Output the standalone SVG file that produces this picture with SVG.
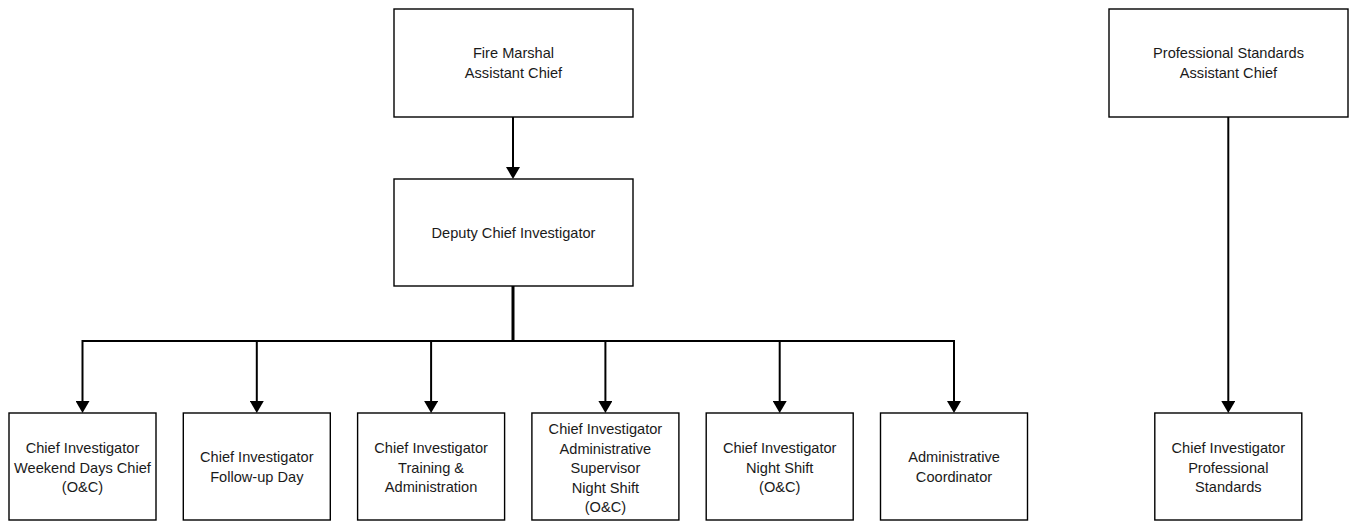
<svg xmlns="http://www.w3.org/2000/svg" width="1353" height="521" viewBox="0 0 1353 521">
<style>
.box{fill:#fff;stroke:#000;stroke-width:1.4}
.t{font-family:"Liberation Sans",Arial,sans-serif;font-size:14.6px;fill:#1a1a1a;text-anchor:middle}
.c{fill:none;stroke:#000;stroke-width:2}
</style>
<defs>
<marker id="ah" markerUnits="userSpaceOnUse" markerWidth="12" markerHeight="14" viewBox="0 0 12 14" refX="0" refY="7" orient="auto">
<path d="M0,0 L12,7 L0,14 z" fill="#000"/>
</marker>
</defs>
<g id="connectors">
<line class="c" x1="513" y1="117" x2="513" y2="167" marker-end="url(#ah)"/>
<line class="c" x1="513" y1="286" x2="513" y2="341" style="stroke-width:3"/>
<line class="c" x1="82.5" y1="341" x2="954" y2="341"/>
<line class="c" x1="82.5" y1="340" x2="82.5" y2="401" marker-end="url(#ah)"/>
<line class="c" x1="256.8" y1="340" x2="256.8" y2="401" marker-end="url(#ah)"/>
<line class="c" x1="431.1" y1="340" x2="431.1" y2="401" marker-end="url(#ah)"/>
<line class="c" x1="605.4" y1="340" x2="605.4" y2="401" marker-end="url(#ah)"/>
<line class="c" x1="779.7" y1="340" x2="779.7" y2="401" marker-end="url(#ah)"/>
<line class="c" x1="954" y1="340" x2="954" y2="401" marker-end="url(#ah)"/>
<line class="c" x1="1228.3" y1="117" x2="1228.3" y2="401" marker-end="url(#ah)"/>
</g>
<g id="fire-marshal">
<rect class="box" x="394" y="9" width="239" height="108"/>
<text class="t" x="513.5" y="58">Fire Marshal</text>
<text class="t" x="513.5" y="78">Assistant Chief</text>
</g>
<g id="deputy-chief">
<rect class="box" x="394" y="179" width="239" height="107"/>
<text class="t" x="513.5" y="238">Deputy Chief Investigator</text>
</g>
<g id="prof-standards-chief">
<rect class="box" x="1109" y="9" width="239" height="108"/>
<text class="t" x="1228.5" y="58">Professional Standards</text>
<text class="t" x="1228.5" y="78">Assistant Chief</text>
</g>
<g id="ci-weekend">
<rect class="box" x="9" y="413" width="147" height="107"/>
<text class="t" x="82.5" y="453">Chief Investigator</text>
<text class="t" x="82.5" y="472.5">Weekend Days Chief</text>
<text class="t" x="82.5" y="492">(O&amp;C)</text>
</g>
<g id="ci-followup">
<rect class="box" x="183.3" y="413" width="147" height="107"/>
<text class="t" x="256.8" y="462">Chief Investigator</text>
<text class="t" x="256.8" y="482">Follow-up Day</text>
</g>
<g id="ci-training">
<rect class="box" x="357.6" y="413" width="147" height="107"/>
<text class="t" x="431.1" y="453">Chief Investigator</text>
<text class="t" x="431.1" y="472.5">Training &amp;</text>
<text class="t" x="431.1" y="492">Administration</text>
</g>
<g id="ci-admin-supervisor">
<rect class="box" x="531.9" y="413" width="147" height="107"/>
<text class="t" x="605.4" y="434">Chief Investigator</text>
<text class="t" x="605.4" y="453.5">Administrative</text>
<text class="t" x="605.4" y="473">Supervisor</text>
<text class="t" x="605.4" y="492.5">Night Shift</text>
<text class="t" x="605.4" y="512">(O&amp;C)</text>
</g>
<g id="ci-night">
<rect class="box" x="706.2" y="413" width="147" height="107"/>
<text class="t" x="779.7" y="453">Chief Investigator</text>
<text class="t" x="779.7" y="472.5">Night Shift</text>
<text class="t" x="779.7" y="492">(O&amp;C)</text>
</g>
<g id="admin-coordinator">
<rect class="box" x="880.5" y="413" width="147" height="107"/>
<text class="t" x="954" y="462">Administrative</text>
<text class="t" x="954" y="482">Coordinator</text>
</g>
<g id="ci-prof-standards">
<rect class="box" x="1154.8" y="413" width="147" height="107"/>
<text class="t" x="1228.3" y="453">Chief Investigator</text>
<text class="t" x="1228.3" y="472.5">Professional</text>
<text class="t" x="1228.3" y="492">Standards</text>
</g>
</svg>
